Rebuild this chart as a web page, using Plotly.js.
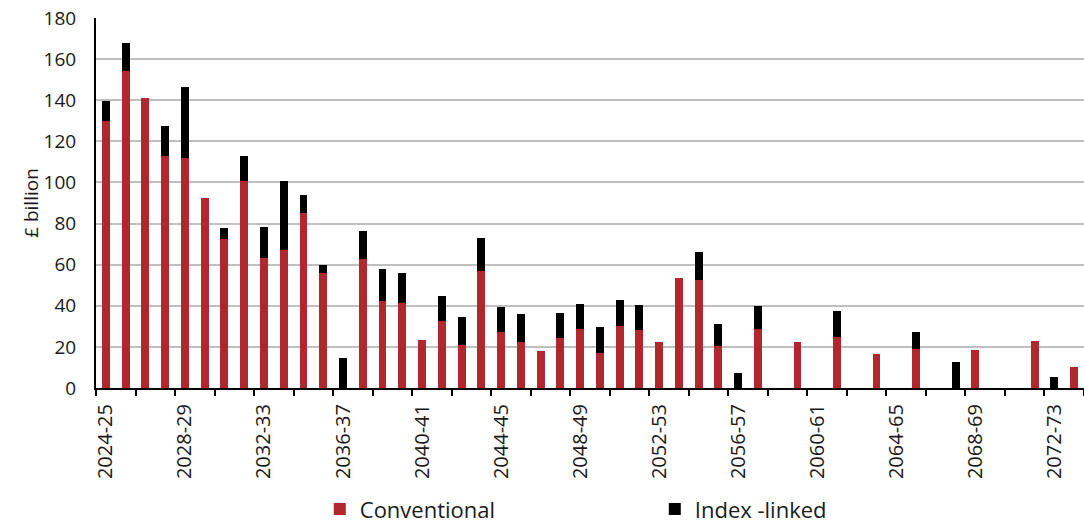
<!DOCTYPE html>
<html>
<head>
<meta charset="utf-8">
<script src="https://cdn.plot.ly/plotly-3.0.1.min.js"></script>
<style>
  html, body { margin: 0; padding: 0; background: #fff; }
  #chart { width: 1084px; height: 526px; }
</style>
</head>
<body>
<div id="chart"></div>
<script>
const categories = [
  "2024-25","2025-26","2026-27","2027-28","2028-29","2029-30","2030-31","2031-32","2032-33","2033-34",
  "2034-35","2035-36","2036-37","2037-38","2038-39","2039-40","2040-41","2041-42","2042-43","2043-44",
  "2044-45","2045-46","2046-47","2047-48","2048-49","2049-50","2050-51","2051-52","2052-53","2053-54",
  "2054-55","2055-56","2056-57","2057-58","2058-59","2059-60","2060-61","2061-62","2062-63","2063-64",
  "2064-65","2065-66","2066-67","2067-68","2068-69","2069-70","2070-71","2071-72","2072-73","2073-74"
];
const conventional = [
  130.1, 154.3, 141.2, 112.8, 111.8, 92.4, 72.6, 100.5, 63.2, 67.3,
  85.1, 56.1, 0, 62.6, 42.1, 41.2, 23.3, 32.4, 21.1, 56.7,
  27.1, 22.2, 18.2, 24.1, 28.7, 17.2, 30.4, 28.0, 22.6, 53.7,
  52.4, 20.3, 0, 28.9, 0, 22.3, 0, 25.0, 0, 16.6,
  0, 19.0, 0, 0, 18.7, 0, 0, 22.8, 0, 10.2
];
const indexLinked = [
  9.4, 13.6, 0, 14.9, 34.6, 0, 5.2, 12.5, 15.2, 33.2,
  8.6, 3.5, 14.4, 13.6, 15.9, 14.9, 0, 12.5, 13.3, 16.2,
  12.3, 13.6, 0, 12.5, 12.0, 12.7, 12.4, 12.5, 0, 0,
  13.8, 10.9, 7.2, 11.1, 0, 0, 0, 12.6, 0, 0,
  0, 8.3, 0, 12.5, 0, 0, 0, 0, 5.4, 0
];
const tickEvery = 4;

const idx = categories.map((c, i) => i);
const tickIdx = idx.filter(i => i % tickEvery === 0);
const tickLabels = tickIdx.map(i => categories[i]);

const FONT = "Open Sans, sans-serif";

const traces = [
  {
    type: "bar", name: "Conventional", x: idx, y: conventional,
    marker: { color: "#B0282E" }, hoverinfo: "y+name"
  },
  {
    type: "bar", name: "Index -linked", x: idx, y: indexLinked,
    marker: { color: "#000000" }, hoverinfo: "y+name"
  }
];

const layout = {
  width: 1084, height: 526,
  margin: { l: 96, r: 0, t: 18, b: 138, pad: 0, autoexpand: false },
  barmode: "stack",
  bargap: 0.6,
  paper_bgcolor: "#fff",
  plot_bgcolor: "#fff",
  font: { family: FONT, size: 19, color: "#1a1a1a" },
  showlegend: true,
  legend: {
    orientation: "h",
    xref: "container", yref: "container",
    x: 0.295, xanchor: "left",
    y: 0.032, yanchor: "middle",
    font: { family: FONT, size: 22, color: "#1a1a1a" },
    entrywidth: 290,
    traceorder: "normal"
  },
  xaxis: {
    type: "linear",
    automargin: false,
    range: [-0.5, categories.length - 0.5],
    tickmode: "array",
    tickvals: tickIdx,
    ticktext: tickLabels,
    tickangle: -90,
    ticks: "",
    ticklabelstandoff: 6,
    showgrid: false,
    zeroline: false,
    showline: true, linecolor: "#000", linewidth: 2,
    tickfont: { family: FONT, size: 20, color: "#1a1a1a" },
    minor: {
      tickmode: "linear", tick0: -0.5, dtick: 2,
      ticks: "outside", ticklen: 6, tickwidth: 2, tickcolor: "#000",
      showgrid: false
    }
  },
  yaxis: {
    automargin: false,
    range: [0, 180],
    dtick: 20,
    tick0: 0,
    showgrid: true, gridcolor: "#BFBFBF", gridwidth: 2,
    zeroline: false,
    showline: true, linecolor: "#000", linewidth: 2,
    ticks: "",
    ticklabelstandoff: 14,
    tickfont: { family: FONT, size: 19, color: "#1a1a1a" },
    title: { text: "£ billion", font: { family: FONT, size: 19, color: "#1a1a1a" }, standoff: 0 }
  }
};

Plotly.newPlot("chart", traces, layout, { displayModeBar: false, staticPlot: true });
</script>
</body>
</html>
